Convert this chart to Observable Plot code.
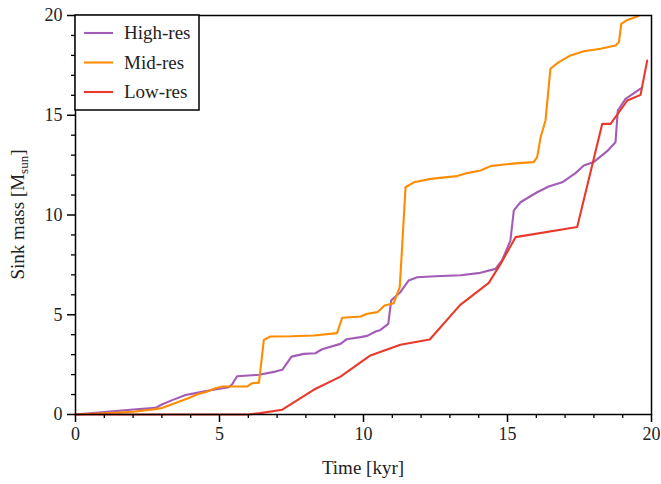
<!DOCTYPE html>
<html>
<head>
<meta charset="utf-8">
<script src="https://cdn.jsdelivr.net/npm/d3@7"></script>
<script src="https://cdn.jsdelivr.net/npm/@observablehq/plot@0.6"></script>
<style>
  body { margin: 0; background: #fff; }
  #chart { width: 661px; height: 484px; }
  #chart svg { font-family: "Liberation Serif", "DejaVu Serif", serif; }
</style>
</head>
<body>
<div id="chart"></div>
<script>
// Sink mass growth for three resolutions
const series = ["High-res", "Mid-res", "Low-res"];
const seriesColors = ["#a35cb6", "#ff8c00", "#e8392b"];

const highResTime = [0, 1.0, 2.0, 2.78, 3.0, 3.36, 3.82, 4.17, 4.63, 5.32, 5.44, 5.61, 6.37, 6.94, 7.18, 7.5, 7.93, 8.33, 8.56, 9.2, 9.41, 9.9, 10.13, 10.42, 10.59, 10.86, 10.96, 11.11, 11.28, 11.57, 11.86, 12.5, 13.37, 14.06, 14.58, 14.81, 15.1, 15.22, 15.45, 16.03, 16.43, 16.9, 17.36, 17.65, 18.0, 18.46, 18.75, 18.83, 19.1, 19.62];
const highResMass = [0, 0.12, 0.25, 0.33, 0.5, 0.72, 0.98, 1.07, 1.2, 1.37, 1.52, 1.92, 1.99, 2.15, 2.24, 2.9, 3.04, 3.07, 3.27, 3.54, 3.77, 3.88, 3.94, 4.16, 4.24, 4.54, 5.71, 5.91, 6.13, 6.72, 6.88, 6.93, 6.98, 7.1, 7.3, 7.72, 8.72, 10.23, 10.64, 11.14, 11.43, 11.64, 12.1, 12.48, 12.66, 13.2, 13.65, 15.24, 15.82, 16.33];

const midResTime = [0, 1.0, 2.0, 2.78, 3.0, 3.47, 3.94, 4.28, 4.51, 4.86, 5.09, 5.96, 6.13, 6.37, 6.54, 6.77, 7.5, 8.28, 9.08, 9.26, 9.9, 10.13, 10.48, 10.73, 11.05, 11.26, 11.46, 11.75, 12.33, 12.9, 13.25, 13.6, 14.06, 14.41, 14.87, 15.39, 15.91, 16.03, 16.15, 16.32, 16.49, 16.78, 17.19, 17.65, 18.23, 18.75, 18.87, 18.95, 19.16, 19.55];
const midResMass = [0, 0.06, 0.14, 0.27, 0.33, 0.58, 0.83, 1.04, 1.12, 1.32, 1.4, 1.4, 1.57, 1.6, 3.74, 3.91, 3.92, 3.96, 4.08, 4.85, 4.91, 5.05, 5.13, 5.46, 5.58, 6.4, 11.39, 11.64, 11.81, 11.9, 11.95, 12.1, 12.23, 12.45, 12.53, 12.6, 12.65, 12.9, 13.9, 14.74, 17.33, 17.66, 18.0, 18.21, 18.33, 18.5, 18.66, 19.58, 19.78, 19.98];

const lowResTime = [0, 6.0, 6.42, 7.18, 8.27, 9.2, 10.24, 11.28, 12.3, 13.35, 14.35, 14.76, 15.28, 17.42, 18.29, 18.58, 19.16, 19.62, 19.85];
const lowResMass = [0, 0, 0.07, 0.24, 1.24, 1.9, 2.96, 3.5, 3.76, 5.48, 6.6, 7.55, 8.89, 9.4, 14.57, 14.57, 15.74, 16.02, 17.74];

const majorTicks = [0, 5, 10, 15, 20];
const minorTicks = [1, 2, 3, 4, 6, 7, 8, 9, 11, 12, 13, 14, 16, 17, 18, 19];

const xLabel = "Time [kyr]";
const yLabelMain = "Sink mass [M";
const yLabelSub = "sun";
const yLabelEnd = "]";

// Long-format table for Plot
const columns = [[highResTime, highResMass], [midResTime, midResMass], [lowResTime, lowResMass]];
const rows = series.flatMap((name, i) =>
  columns[i][0].map((t, j) => ({series: name, t, m: columns[i][1][j]}))
);

const textColor = "#222";
const fontSize = 18;

const plot = Plot.plot({
  width: 661,
  height: 484,
  marginLeft: 75,
  marginRight: 10,
  marginTop: 15,
  marginBottom: 70,
  style: {fontSize: fontSize + "px", fontFamily: "Liberation Serif, serif", color: textColor, background: "#fff"},
  x: {domain: [0, 20]},
  y: {domain: [0, 20]},
  color: {domain: series, range: seriesColors},
  marks: [
    Plot.line(rows, {x: "t", y: "m", z: "series", stroke: "series", strokeWidth: 2.1}),
    Plot.frame({stroke: "#000", strokeWidth: 1.5}),
    Plot.axisX(majorTicks, {tickSize: 8, tickPadding: 5, tickFormat: d => d, label: null, stroke: "#000", strokeWidth: 1.5}),
    Plot.axisX(minorTicks, {tickSize: 4, tickFormat: () => "", label: null, stroke: "#000", strokeWidth: 1.3}),
    Plot.axisY(majorTicks, {tickSize: 8, tickPadding: 5, tickFormat: d => d, label: null, stroke: "#000", strokeWidth: 1.5}),
    Plot.axisY(minorTicks, {tickSize: 4, tickFormat: () => "", label: null, stroke: "#000", strokeWidth: 1.3})
  ]
});

document.getElementById("chart").appendChild(plot);

// Axis titles and legend, drawn into the same SVG
const svg = d3.select(plot);
const frameLeft = 75, frameRight = 651, frameTop = 15, frameBottom = 414;

svg.append("text")
  .attr("x", (frameLeft + frameRight) / 2)
  .attr("y", 474)
  .attr("text-anchor", "middle")
  .attr("fill", textColor)
  .style("font-size", "19px")
  .text(xLabel);

const yl = svg.append("text")
  .attr("transform", `translate(24,${(frameTop + frameBottom) / 2}) rotate(-90)`)
  .attr("text-anchor", "middle")
  .attr("fill", textColor)
  .style("font-size", "19px");
yl.append("tspan").text(yLabelMain);
yl.append("tspan").attr("dy", 4).style("font-size", "13px").text(yLabelSub);
yl.append("tspan").attr("dy", -4).text(yLabelEnd);

const legend = svg.append("g");
legend.append("rect")
  .attr("x", frameLeft).attr("y", frameTop)
  .attr("width", 124).attr("height", 95)
  .attr("fill", "#fff").attr("stroke", "#000").attr("stroke-width", 1.5);
series.forEach((name, i) => {
  const yy = 33 + i * 29.5;
  legend.append("line")
    .attr("x1", 84).attr("x2", 113).attr("y1", yy).attr("y2", yy)
    .attr("stroke", seriesColors[i]).attr("stroke-width", 2.1);
  legend.append("text")
    .attr("x", 124).attr("y", yy).attr("dy", "0.33em")
    .attr("text-anchor", "start")
    .attr("fill", textColor)
    .style("font-size", "19px")
    .text(name);
});
</script>
</body>
</html>
